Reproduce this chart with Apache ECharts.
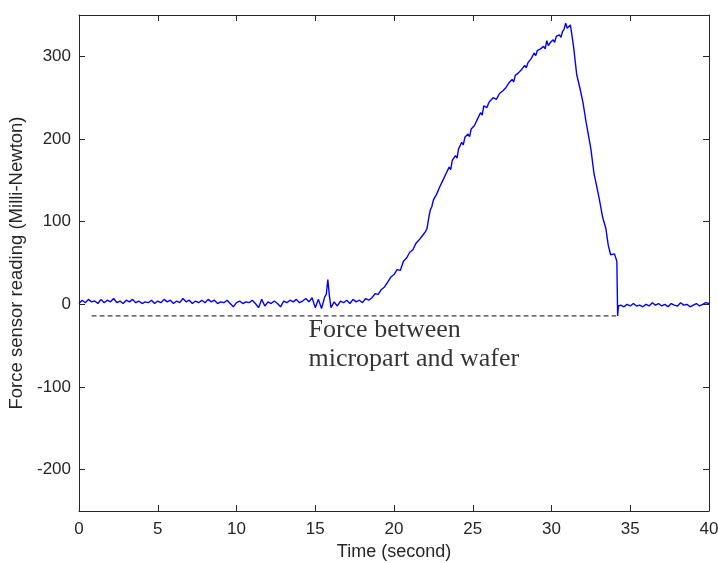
<!DOCTYPE html>
<html>
<head>
<meta charset="utf-8">
<script src="https://cdn.jsdelivr.net/npm/echarts@6/dist/echarts.min.js"></script>
<style>
  html, body { margin: 0; padding: 0; background: #fff; }
  #chart { width: 718px; height: 563px; }
</style>
</head>
<body>
<div id="chart"></div>
<script>
// [time (s), force (mN)]
const idleBefore = [
  [0.0, 1], [0.2, 5], [0.4, 2], [0.6, 6], [0.8, 3], [1.0, 4], [1.2, 1], [1.4, 6], [1.6, 2], [1.8, 5],
  [2.0, 3], [2.2, 7], [2.4, 2], [2.6, 4], [2.8, 1], [3.0, 5], [3.2, 3], [3.4, 6], [3.6, 2], [3.8, 4],
  [4.0, 1], [4.2, 3], [4.4, 2], [4.6, 5], [4.8, 1], [5.0, 4], [5.2, 2], [5.4, 6], [5.6, 3], [5.8, 5],
  [6.0, 1], [6.2, 4], [6.4, 2], [6.6, 7], [6.8, 3], [7.0, 5], [7.2, 1], [7.4, 4], [7.6, 2], [7.8, 5],
  [8.0, 2], [8.2, 6], [8.4, 3], [8.6, 5], [8.8, 1], [9.0, 3], [9.2, 2], [9.4, 5], [9.6, 1], [9.8, -3],
  [10.0, 2], [10.2, 4], [10.4, 1], [10.6, 3], [10.8, 2], [11.0, 5], [11.2, 1], [11.4, -4], [11.6, 6], [11.8, -2],
  [12.0, 3], [12.2, 1], [12.4, 4], [12.6, 1], [12.8, -3], [13.0, 4], [13.2, 2], [13.4, 5], [13.6, 3], [13.8, 6],
  [14.0, 2], [14.2, 4], [14.4, 7], [14.6, 3], [14.8, 8], [15.0, -4], [15.2, 6], [15.4, -5], [15.6, 9], [15.7, 12],
  [15.8, 30], [15.9, 10], [16.0, -4], [16.2, 3], [16.4, -2], [16.6, 4], [16.8, 2], [17.0, 5], [17.2, 1], [17.4, 6],
  [17.6, 3], [17.8, 5], [18.0, 2], [18.2, 7], [18.4, 5]
];
const loading = [
  [18.6, 8], [18.8, 13], [19.0, 12], [19.2, 18], [19.4, 21], [19.6, 27], [19.8, 33], [20.0, 36], [20.2, 42],
  [20.4, 41], [20.6, 52], [20.8, 56], [21.0, 63], [21.2, 66], [21.4, 74], [21.6, 78], [21.8, 83], [22.0, 88],
  [22.1, 92], [22.2, 104], [22.3, 114], [22.4, 118], [22.5, 126], [22.7, 133], [22.8, 131], [22.9, 142],
  [23.1, 150], [23.2, 148], [23.3, 158], [23.5, 166], [23.6, 163], [23.7, 174], [23.9, 180], [24.0, 177],
  [24.1, 188], [24.3, 196], [24.4, 193], [24.5, 202], [24.7, 206], [24.8, 203], [24.9, 212], [25.1, 216],
  [25.2, 214], [25.3, 224], [25.5, 232], [25.6, 229], [25.7, 240], [25.9, 238], [26.0, 243], [26.1, 246],
  [26.2, 244], [26.3, 250], [26.5, 248], [26.7, 255], [26.8, 253], [26.9, 258], [27.1, 262], [27.2, 260],
  [27.3, 268], [27.5, 272], [27.6, 269], [27.7, 277], [27.9, 280], [28.0, 278], [28.1, 284], [28.3, 289],
  [28.4, 286], [28.5, 292], [28.7, 297], [28.9, 304], [29.0, 301], [29.1, 307], [29.3, 309], [29.5, 312],
  [29.6, 309], [29.7, 319], [29.8, 313], [29.9, 316], [30.1, 320], [30.2, 317], [30.3, 324], [30.5, 326],
  [30.6, 323], [30.7, 330], [30.8, 333], [30.9, 340], [31.0, 334], [31.1, 336], [31.2, 338], [31.3, 340]
];
const unloading = [
  [31.4, 312], [31.6, 278], [31.8, 262], [32.0, 244], [32.2, 220], [32.5, 188], [32.7, 158], [33.0, 131],
  [33.25, 105], [33.45, 92], [33.6, 72], [33.75, 60], [34.0, 61], [34.15, 52], [34.2, -14], [34.25, -2]
];
const idleAfter = [
  [34.4, -1], [34.6, -3], [34.8, 0], [35.0, -2], [35.2, 1], [35.4, -2], [35.6, -1], [35.8, -3], [36.0, 0],
  [36.2, -2], [36.4, 2], [36.6, -1], [36.8, 1], [37.0, -2], [37.2, 0], [37.4, -3], [37.6, 1], [37.8, -1],
  [38.0, -2], [38.2, 2], [38.4, -1], [38.6, 0], [38.8, -3], [39.0, -1], [39.2, 1], [39.4, -2], [39.6, 0],
  [39.8, 2], [40.0, 1]
];
const contactLevel = [[0.8, -14], [34.1, -14]];
const noteAnchor = [[14.6, -50]];
const noteText = 'Force between\nmicropart and wafer';

const xTicks = [0, 5, 10, 15, 20, 25, 30, 35, 40];
const yTicks = [-200, -100, 0, 100, 200, 300];

const axisColor = '#262626';
const tickFont = "'Liberation Sans', Arial, sans-serif";

const chart = echarts.init(document.getElementById('chart'), null, { renderer: 'canvas' });

function xAxisCfg(pos, labels) {
  return {
    type: 'value', position: pos, min: 0, max: 40,
    name: labels ? 'Time (second)' : '',
    nameLocation: 'middle', nameGap: 32,
    nameTextStyle: { color: axisColor, fontSize: 18, fontFamily: tickFont },
    axisLine: { show: true, onZero: false, lineStyle: { color: axisColor, width: 1 } },
    axisTick: { show: true, inside: true, length: 6, customValues: xTicks, lineStyle: { color: axisColor } },
    axisLabel: { show: labels, customValues: xTicks, margin: 10, color: axisColor, fontSize: 17, fontFamily: tickFont },
    splitLine: { show: false }
  };
}
function yAxisCfg(pos, labels) {
  return {
    type: 'value', position: pos, min: -250, max: 350,
    name: labels ? 'Force sensor reading (Milli-Newton)' : '',
    nameLocation: 'middle', nameGap: 47,
    nameTextStyle: { color: axisColor, fontSize: 18.5, fontFamily: tickFont },
    axisLine: { show: true, onZero: false, lineStyle: { color: axisColor, width: 1 } },
    axisTick: { show: true, inside: true, length: 6, customValues: yTicks, lineStyle: { color: axisColor } },
    axisLabel: { show: labels, customValues: yTicks, margin: 8, color: axisColor, fontSize: 17, fontFamily: tickFont },
    splitLine: { show: false }
  };
}

const option = {
  backgroundColor: '#fff',
  animation: false,
  grid: { left: 79, right: 9, top: 15, bottom: 52, outerBoundsMode: 'none' },
  xAxis: [xAxisCfg('bottom', true), xAxisCfg('top', false)],
  yAxis: [yAxisCfg('left', true), yAxisCfg('right', false)],
  series: [
    {
      name: 'contact',
      type: 'line',
      data: contactLevel,
      showSymbol: false,
      lineStyle: { color: '#111', width: 1, type: [5, 3] },
      z: 1
    },
    {
      name: 'force',
      type: 'line',
      data: idleBefore.concat(loading, unloading, idleAfter),
      showSymbol: false,
      lineStyle: { color: '#0000ff', width: 1.4 },
      z: 2
    },
    {
      name: 'note',
      type: 'scatter',
      data: noteAnchor,
      symbolSize: 1,
      itemStyle: { color: 'rgba(0,0,0,0)' },
      label: {
        show: true,
        position: [0, 0],
        align: 'left',
        verticalAlign: 'middle',
        formatter: noteText,
        fontFamily: "'Liberation Serif', 'Times New Roman', serif",
        fontSize: 26,
        lineHeight: 29,
        color: '#000',
        textBorderWidth: 0
      },
      silent: true,
      z: 3
    }
  ]
};

chart.setOption(option);
</script>
</body>
</html>
